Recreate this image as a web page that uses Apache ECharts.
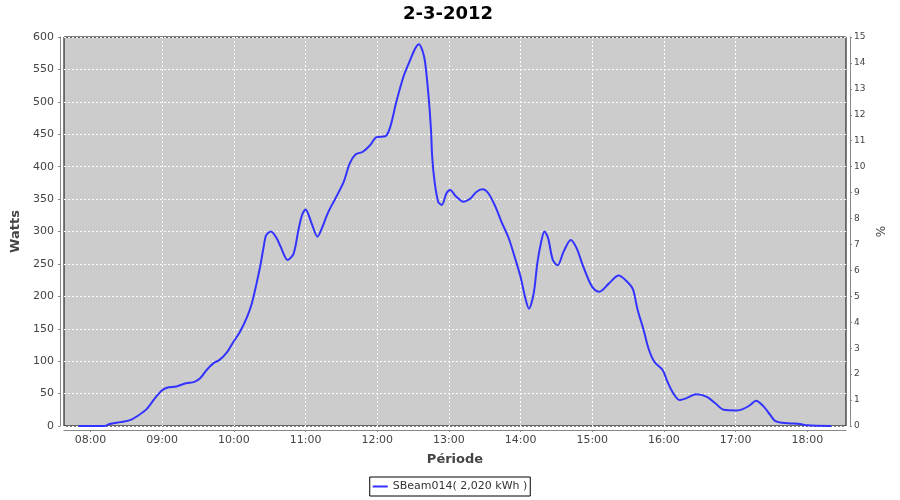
<!DOCTYPE html>
<html>
<head>
<meta charset="utf-8">
<script src="https://cdn.jsdelivr.net/npm/echarts@6/dist/echarts.min.js"></script>
<style>html,body{margin:0;padding:0;background:#fff}#c{width:900px;height:500px}</style>
</head>
<body>
<div id="c"></div>
<script>
var titleText = '2-3-2012';
var seriesName = 'SBeam014( 2,020 kWh )';
var times = ['07:50','08:00','08:12','08:16','08:25','08:33','08:39','08:47','08:54','09:00','09:04','09:12','09:20','09:27','09:32','09:37','09:43','09:48','09:54','09:59','10:05','10:11','10:15','10:19','10:22','10:25','10:27','10:31','10:36','10:39','10:45','10:50','10:54','10:57','11:00','11:05','11:10','11:13','11:19','11:25','11:32','11:37','11:42','11:48','11:54','11:59','12:07','12:11','12:16','12:22','12:27','12:32','12:35','12:38','12:40','12:43','12:45','12:46','12:48','12:51','12:54','12:58','13:01','13:06','13:12','13:18','13:23','13:28','13:33','13:39','13:44','13:50','13:55','14:00','14:04','14:07','14:11','14:14','14:17','14:20','14:23','14:27','14:31','14:36','14:42','14:47','14:52','14:58','15:02','15:06','15:14','15:22','15:29','15:34','15:38','15:43','15:47','15:52','15:59','16:03','16:08','16:13','16:19','16:27','16:36','16:43','16:50','17:01','17:06','17:12','17:17','17:23','17:29','17:33','17:39','17:46','17:54','18:00','18:20'];
var watts = [0,0,0,3,6,9,15,26,43,55,59,61,66,68,74,86,97,102,113,128,145,168,189,220,246,277,294,300,289,277,256,266,302,325,334,313,292,302,330,351,377,405,419,423,433,445,447,462,500,539,562,583,589,578,562,508,457,415,377,346,341,359,364,354,346,351,361,365,359,338,315,290,261,230,197,181,205,251,282,300,290,256,248,269,287,274,248,221,210,207,220,232,223,211,179,148,120,99,86,68,50,40,43,49,45,35,25,24,26,32,39,31,17,8,5,4,3,1,0];
var hourTicks = ['08:00','09:00','10:00','11:00','12:00','13:00','14:00','15:00','16:00','17:00','18:00'];
var xRange = ['07:37.8','18:32.4'];
var leftTicks = {min: 0, max: 600, step: 50};
var rightTicks = {min: 0, max: 15, step: 1};

function toMin(s) { var p = s.split(':'); return +p[0] * 60 + parseFloat(p[1]); }
function fmt(v) { var h = Math.floor(v / 60), m = Math.round(v - h * 60); return (h < 10 ? '0' : '') + h + ':' + (m < 10 ? '0' : '') + m; }

var data = times.map(function (t, i) { return [toMin(t), watts[i]]; });
var hourVals = hourTicks.map(toMin);
var FONT = 'DejaVu Sans';

var chart = echarts.init(document.getElementById('c'), null, {renderer: 'canvas'});
chart.setOption({
  animation: false,
  backgroundColor: '#ffffff',
  title: {
    text: titleText, left: 403, top: 5, padding: 0,
    textStyle: {fontFamily: FONT, fontSize: 18, fontWeight: 'bold', color: '#000'}
  },
  legend: {
    data: [{name: seriesName, icon: 'rect', itemStyle: {color: '#3333ff'}}],
    left: 'center', top: 477,
    padding: [4, 3, 4, 3], borderColor: '#000', borderWidth: 1,
    itemWidth: 15, itemHeight: 2, itemGap: 4,
    textStyle: {fontFamily: FONT, fontSize: 11, color: '#333'}
  },
  grid: {
    left: 64, right: 54, top: 37, bottom: 74,
    show: true, backgroundColor: '#cccccc', borderColor: '#000', borderWidth: 1
  },
  xAxis: {
    type: 'value', min: toMin(xRange[0]), max: toMin(xRange[1]),
    offset: 4,
    name: 'Période', nameLocation: 'middle', nameGap: 23,
    nameTextStyle: {fontFamily: FONT, fontSize: 13, fontWeight: 'bold', color: '#444'},
    axisLine: {onZero: false, lineStyle: {color: '#888'}},
    axisTick: {show: true, length: 2, customValues: hourVals, lineStyle: {color: '#888'}},
    axisLabel: {customValues: hourVals, formatter: fmt, margin: 5, fontFamily: FONT, fontSize: 11, color: '#444'},
    splitLine: {show: true, showMinLine: false, showMaxLine: false, lineStyle: {color: '#ffffff', type: [2, 2], width: 1}}
  },
  yAxis: [{
    type: 'value', min: leftTicks.min, max: leftTicks.max, interval: leftTicks.step,
    position: 'left', offset: 4,
    name: 'Watts', nameLocation: 'middle', nameGap: 33, nameRotate: 90,
    nameTextStyle: {fontFamily: FONT, fontSize: 13, fontWeight: 'bold', color: '#444'},
    axisLine: {show: true, lineStyle: {color: '#888'}},
    axisTick: {show: true, length: 2, lineStyle: {color: '#888'}},
    axisLabel: {margin: 6, fontFamily: FONT, fontSize: 11, color: '#444'},
    splitLine: {show: true, lineStyle: {color: '#ffffff', type: [2, 2], width: 1}}
  }, {
    type: 'value', min: rightTicks.min, max: rightTicks.max, interval: rightTicks.step,
    position: 'right', offset: 4,
    name: '%', nameLocation: 'middle', nameGap: 25, nameRotate: 90,
    nameTextStyle: {fontFamily: FONT, fontSize: 12, color: '#444'},
    axisLine: {show: true, lineStyle: {color: '#888'}},
    axisTick: {show: true, length: 2, lineStyle: {color: '#888'}},
    axisLabel: {margin: 4, fontFamily: FONT, fontSize: 9, color: '#444'},
    splitLine: {show: false}
  }],
  series: [{
    name: seriesName, type: 'line', yAxisIndex: 0,
    data: data, symbol: 'none', smooth: 0.3,
    lineStyle: {color: '#3333ff', width: 2},
    itemStyle: {color: '#3333ff'}
  }]
});
</script>
</body>
</html>
